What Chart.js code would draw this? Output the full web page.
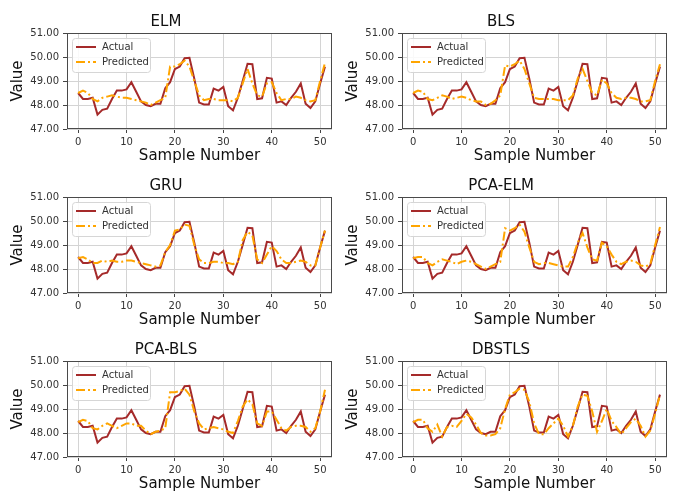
<!DOCTYPE html>
<html>
<head>
<meta charset="utf-8">
<script src="https://cdn.jsdelivr.net/npm/chart.js@4.4.0/dist/chart.umd.min.js"></script>
<style>
  html, body { margin: 0; padding: 0; background: #fff; }
  #wrap { position: relative; width: 673px; height: 493px; overflow: hidden; }
  .panel { position: absolute; width: 336px; height: 164px; }
</style>
</head>
<body>
<div id="wrap"></div>
<script>
// sample index 0..51
const sampleNumbers = Array.from({ length: 52 }, (_, i) => i);
const xTicks = [0, 10, 20, 30, 40, 50];
const yTicks = [47, 48, 49, 50, 51];
const modelNames = ["ELM", "BLS", "GRU", "PCA-ELM", "PCA-BLS", "DBSTLS"];

const actual = [48.5, 48.25, 48.25, 48.3, 47.6, 47.8, 47.85, 48.25, 48.6, 48.6,
  48.65, 48.95, 48.55, 48.15, 48.0, 47.95, 48.05, 48.05, 48.7, 48.95,
  49.5, 49.6, 49.95, 49.97, 49.1, 48.1, 48.02, 48.02, 48.68, 48.6,
  48.75, 47.95, 47.78, 48.3, 49.0, 49.72, 49.7, 48.25, 48.28, 49.13,
  49.1, 48.1, 48.15, 48.0, 48.3, 48.55, 48.9, 48.05, 47.87, 48.15,
  48.9, 49.6];

const predELM = [48.5, 48.6, 48.5, 48.25, 48.15, 48.3, 48.35, 48.4, 48.35, 48.3,
  48.3, 48.25, 48.2, 48.15, 48.1, 48.0, 48.1, 48.2, 48.3, 49.6,
  49.6, 49.7, 49.85, 49.6, 49.0, 48.4, 48.2, 48.25, 48.25, 48.2,
  48.2, 48.2, 48.15, 48.3, 48.9, 49.5, 48.9, 48.4, 48.35, 48.9,
  48.95, 48.5, 48.2, 48.25, 48.25, 48.35, 48.3, 48.2, 48.15, 48.2,
  49.0, 49.75];

const predBLS = [48.5, 48.6, 48.55, 48.25, 48.2, 48.3, 48.4, 48.35, 48.25, 48.3,
  48.35, 48.3, 48.2, 48.15, 48.15, 48.0, 48.05, 48.2, 48.4, 49.65,
  49.6, 49.7, 49.85, 49.5, 48.9, 48.3, 48.25, 48.25, 48.25, 48.25,
  48.2, 48.2, 48.2, 48.4, 49.1, 49.5, 49.0, 48.5, 48.4, 49.05,
  48.9, 48.5, 48.3, 48.25, 48.3, 48.3, 48.25, 48.15, 48.15, 48.2,
  49.0, 49.7];

const predGRU = [48.45, 48.5, 48.4, 48.25, 48.25, 48.35, 48.3, 48.35, 48.3, 48.3,
  48.35, 48.35, 48.3, 48.25, 48.2, 48.15, 48.1, 48.15, 48.7, 49.0,
  49.6, 49.65, 49.85, 49.8, 49.0, 48.4, 48.25, 48.25, 48.3, 48.3,
  48.25, 48.25, 48.2, 48.3, 49.2, 49.55, 49.4, 48.4, 48.25, 48.6,
  48.95, 48.75, 48.4, 48.25, 48.25, 48.3, 48.35, 48.3, 48.15, 48.15,
  48.9, 49.6];

const predPCAELM = [48.45, 48.5, 48.5, 48.25, 48.15, 48.3, 48.4, 48.35, 48.3, 48.2,
  48.3, 48.35, 48.3, 48.2, 48.1, 48.0, 48.1, 48.2, 48.3, 49.7,
  49.6, 49.7, 49.85, 49.55, 48.9, 48.3, 48.2, 48.25, 48.25, 48.2,
  48.15, 48.1, 48.1, 48.5, 49.1, 49.5, 48.9, 48.4, 48.35, 49.1,
  48.95, 48.6, 48.3, 48.2, 48.3, 48.35, 48.3, 48.15, 48.1, 48.2,
  49.0, 49.75];

const predPCABLS = [48.45, 48.55, 48.5, 48.2, 48.15, 48.3, 48.4, 48.3, 48.2, 48.3,
  48.4, 48.4, 48.3, 48.3, 48.1, 47.95, 48.05, 48.1, 48.2, 49.7,
  49.7, 49.75, 49.85, 49.6, 48.9, 48.4, 48.15, 48.2, 48.25, 48.2,
  48.15, 48.05, 48.0, 48.5, 49.1, 49.4, 49.2, 48.4, 48.3, 48.9,
  48.9, 48.55, 48.2, 48.1, 48.25, 48.3, 48.3, 48.25, 48.05, 48.2,
  48.9, 49.8];

const predDBSTLS = [48.45, 48.55, 48.55, 48.2, 48.05, 48.35, 47.85, 48.25, 48.3, 48.25,
  48.5, 48.8, 48.65, 48.35, 48.0, 47.9, 47.9, 47.95, 48.2, 49.0,
  49.6, 49.7, 49.85, 49.8, 49.3, 48.4, 47.95, 47.95, 48.2, 48.4,
  48.6, 48.3, 47.85, 48.3, 49.1, 49.6, 49.55, 48.9, 48.05, 48.5,
  49.0, 48.5, 48.25, 47.95, 48.2, 48.45, 48.6, 48.3, 47.85, 48.1,
  48.8, 49.6];

const predictions = [predELM, predBLS, predGRU, predPCAELM, predPCABLS, predDBSTLS];

const RED = "#a52a2a";
const ORANGE = "#ffa500";
const FONT = "'DejaVu Sans', sans-serif";

// full box around the plot area + legend inside upper left
const frameAndLegend = {
  id: "frameAndLegend",
  afterDatasetsDraw(chart) {
    const { ctx, chartArea: a } = chart;
    ctx.save();
    ctx.strokeStyle = "#4a4a4a";
    ctx.lineWidth = 1;
    ctx.strokeRect(Math.round(a.left) + 0.5, Math.round(a.top) + 0.5,
      Math.round(a.right - a.left) - 1, Math.round(a.bottom - a.top) - 1);

    // legend box
    const bx = a.left + 5, by = a.top + 5, bw = 78, bh = 34;
    ctx.fillStyle = "rgba(255,255,255,0.85)";
    ctx.strokeStyle = "#d6d6d6";
    ctx.beginPath();
    ctx.roundRect(bx + 0.5, by + 0.5, bw, bh, 3);
    ctx.fill();
    ctx.stroke();

    ctx.font = "10px " + FONT;
    ctx.textBaseline = "middle";
    chart.data.datasets.slice().sort((p, q) => p.legendRank - q.legendRank).forEach((ds, i) => {
      const y = by + 9 + i * 15;
      ctx.strokeStyle = ds.borderColor;
      ctx.lineWidth = 2;
      ctx.setLineDash(ds.borderDash || []);
      ctx.beginPath();
      ctx.moveTo(bx + 4, y);
      ctx.lineTo(bx + 24, y);
      ctx.stroke();
      ctx.setLineDash([]);
      ctx.fillStyle = "#333";
      ctx.fillText(ds.label, bx + 30, y);
    });
    ctx.restore();
  },
};

const wrap = document.getElementById("wrap");

modelNames.forEach((name, k) => {
  const col = k % 2;
  const row = Math.floor(k / 2);
  const div = document.createElement("div");
  div.className = "panel";
  div.style.left = (col === 0 ? 0 : 335) + "px";
  div.style.top = row * 164 + "px";
  const canvas = document.createElement("canvas");
  canvas.width = 336;
  canvas.height = 164;
  div.appendChild(canvas);
  wrap.appendChild(div);

  new Chart(canvas, {
    type: "line",
    data: {
      labels: sampleNumbers,
      datasets: [
        {
          label: "Actual",
          legendRank: 0,
          data: actual.map((v, i) => ({ x: sampleNumbers[i], y: v })),
          borderColor: RED,
          borderWidth: 2,
          pointRadius: 0,
          tension: 0,
          order: 1,
        },
        {
          label: "Predicted",
          legendRank: 1,
          data: predictions[k].map((v, i) => ({ x: sampleNumbers[i], y: v })),
          borderColor: ORANGE,
          borderWidth: 2,
          borderDash: [9, 3, 2, 3],
          pointRadius: 0,
          tension: 0,
          order: 0,
        },
      ],
    },
    options: {
      responsive: false,
      animation: false,
      layout: { padding: { right: 4, left: 0, bottom: 0, top: 0 } },
      plugins: {
        legend: { display: false },
        tooltip: { enabled: false },
        title: {
          display: true,
          text: name,
          color: "#111",
          font: { family: FONT, size: 15, weight: "normal", lineHeight: 1.2 },
          padding: { top: 13, bottom: 2 },
        },
      },
      scales: {
        x: {
          type: "linear",
          min: -2.3,
          max: 52.45,
          afterBuildTicks: (s) => { s.ticks = xTicks.map((v) => ({ value: v })); },
          afterFit: (s) => { s.height = 35; },
          ticks: { color: "#333", font: { family: FONT, size: 10 }, padding: 3, maxRotation: 0 },
          grid: { color: "#d4d4d4", lineWidth: 1, tickLength: 4, tickColor: "#444" },
          border: { display: false },
          title: {
            display: true,
            text: "Sample Number",
            color: "#111",
            font: { family: FONT, size: 15, lineHeight: 1 },
            padding: { top: 0, bottom: 0 },
          },
        },
        y: {
          min: 47,
          max: 51,
          afterBuildTicks: (s) => { s.ticks = yTicks.map((v) => ({ value: v })); },
          afterFit: (s) => { s.width = 67; },
          ticks: {
            color: "#333",
            font: { family: FONT, size: 10 },
            padding: 4,
            callback: (v) => Number(v).toFixed(2),
          },
          grid: { color: "#d4d4d4", lineWidth: 1, tickLength: 4, tickColor: "#444" },
          border: { display: false },
          title: {
            display: true,
            text: "Value",
            color: "#111",
            font: { family: FONT, size: 15, lineHeight: 1.2 },
            padding: { top: 9, bottom: 0 },
          },
        },
      },
    },
    plugins: [frameAndLegend],
  });
});
</script>
</body>
</html>
